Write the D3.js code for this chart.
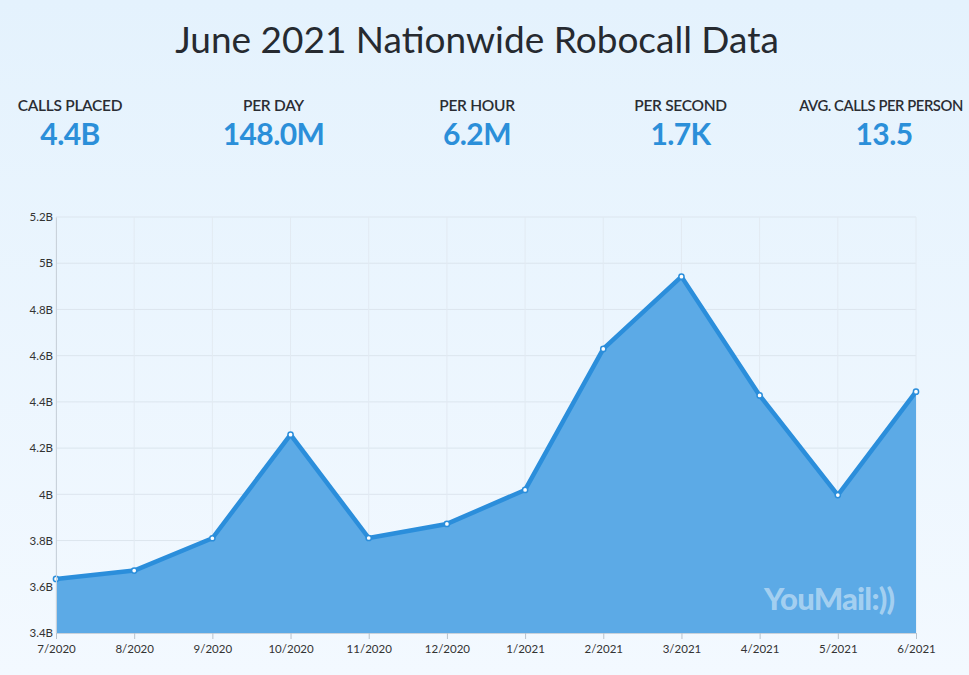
<!DOCTYPE html>
<html><head><meta charset="utf-8">
<script src="https://cdn.jsdelivr.net/npm/d3@7"></script>
<style>
html,body{margin:0;padding:0;width:969px;height:675px;overflow:hidden;}
body{background:linear-gradient(#e4f2fd,#f3f9ff);font-family:Lato,"Open Sans",sans-serif;}
</style></head><body>
<svg id="c" width="969" height="675"></svg>
<script>
const months = ["7/2020","8/2020","9/2020","10/2020","11/2020","12/2020","1/2021","2/2021","3/2021","4/2021","5/2021","6/2021"];
const calls = [3.634,3.670,3.810,4.258,3.811,3.872,4.019,4.629,4.942,4.428,3.997,4.444];
const yTicks = [3.4,3.6,3.8,4.0,4.2,4.4,4.6,4.8,5.0,5.2];
const statLabels = ["CALLS PLACED","PER DAY","PER HOUR","PER SECOND","AVG. CALLS PER PERSON"];
const statValues = ["4.4B","148.0M","6.2M","1.7K","13.5"];
const title = "June 2021 Nationwide Robocall Data";

const svg = d3.select("#c");
svg.append("text").attr("x",477).attr("y",53).attr("text-anchor","middle")
  .attr("font-size",37).attr("fill","#262a30").attr("font-family","Lato, sans-serif").text(title);

const sx = d3.scalePoint().domain(statLabels).range([70,884]);
const sg = svg.append("g");
statLabels.forEach((l,i)=>{
  const last = i===statLabels.length-1;
  sg.append("text").attr("x",last?881:sx(l)).attr("y",111).attr("text-anchor","middle")
    .attr("font-size",last?14.8:15.5).attr("font-weight",600).attr("fill","#2a2d33").attr("letter-spacing",last?"-0.45":"-0.3").text(l);
  sg.append("text").attr("x",sx(l)).attr("y",145).attr("text-anchor","middle")
    .attr("font-size",30).attr("font-weight",700).attr("fill","#2b8fd9").attr("letter-spacing","-0.6").text(statValues[i]);
});

const L=56,R=916,T=217,B=633;
const x = d3.scalePoint().domain(months).range([L,R]);
const y = d3.scaleLinear().domain([3.4,5.2]).range([B,T]);

// grid
const g = svg.append("g");
g.selectAll(".hg").data(yTicks).join("line").attr("x1",L).attr("x2",R)
  .attr("y1",d=>y(d)).attr("y2",d=>y(d)).attr("stroke","#dce5ee").attr("stroke-width",1);
g.selectAll(".vg").data(months).join("line").attr("x1",d=>x(d)).attr("x2",d=>x(d))
  .attr("y1",T).attr("y2",B).attr("stroke","#e2eaf2").attr("stroke-width",1);

const data = months.map((m,i)=>({m,v:calls[i]}));
const area = d3.area().x(d=>x(d.m)).y0(B).y1(d=>y(d.v));
const line = d3.line().x(d=>x(d.m)).y(d=>y(d.v));
g.append("path").datum(data).attr("d",area).attr("fill","#5caae6");

// watermark
svg.append("text").attr("x",764).attr("y",610).attr("font-size",31).attr("font-weight",900)
  .attr("fill","#ffffff").attr("fill-opacity",0.45).attr("letter-spacing","-0.8").attr("font-family","Lato, sans-serif").text("YouMail:))");

g.append("path").datum(data).attr("d",line).attr("fill","none").attr("stroke","#2b8edb")
  .attr("stroke-width",4.5).attr("stroke-linejoin","round");
g.selectAll(".pt").data(data).join("circle").attr("cx",d=>x(d.m)).attr("cy",d=>y(d.v))
  .attr("r",2.6).attr("fill","#fff").attr("stroke","#2b8edb").attr("stroke-width",1.5);

// axes
const yAx = svg.append("g").attr("transform",`translate(${L},0)`)
  .call(d3.axisLeft(y).tickValues(yTicks).tickSize(0).tickPadding(3).tickFormat(d=>d3.format("~")(+d.toFixed(1))+"B"));
yAx.select(".domain").attr("stroke","#c9d2db");
yAx.selectAll("text").attr("font-size",11.5).attr("fill","#333").attr("font-family","Lato, sans-serif");
const xAx = svg.append("g").attr("transform",`translate(0,${B})`)
  .call(d3.axisBottom(x).tickSize(6).tickPadding(6).tickSizeOuter(0));
xAx.select(".domain").attr("stroke","#c9d2db");
xAx.selectAll(".tick line").attr("stroke","#b8c2cc");
xAx.selectAll("text").attr("font-size",11.5).attr("fill","#333").attr("font-family","Lato, sans-serif");
</script></body></html>
